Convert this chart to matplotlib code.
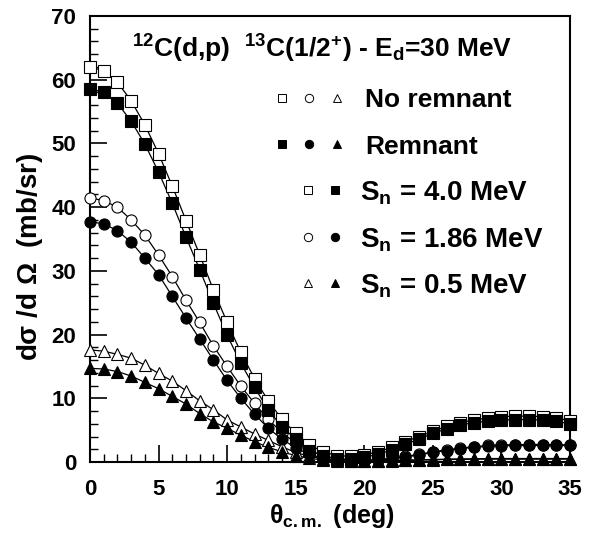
import numpy as np
import matplotlib
matplotlib.use("Agg")
import matplotlib.pyplot as plt

plt.rcParams["font.family"] = ["Liberation Sans", "DejaVu Sans"]
plt.rcParams["font.weight"] = "bold"
plt.rcParams["mathtext.fontset"] = "custom"
plt.rcParams["mathtext.bf"] = "Liberation Sans:bold"
plt.rcParams["mathtext.rm"] = "Liberation Sans"
plt.rcParams["mathtext.default"] = "bf"

# angles (deg), one point per degree
theta = list(range(0, 36))

# S_n = 4.0 MeV
sq_no = [62.0, 61.4, 59.6, 56.7, 52.9, 48.4, 43.3, 37.9, 32.5, 27.0, 21.9, 17.2,
         13.1, 9.6, 6.7, 4.5, 2.7, 1.6, 1.0, 0.9, 1.1, 1.6, 2.3, 3.2, 4.0, 4.8,
         5.6, 6.2, 6.6, 6.9, 7.1, 7.2, 7.2, 7.1, 6.9, 6.5]
sq_rem = [58.6, 58.0, 56.3, 53.5, 49.9, 45.5, 40.6, 35.3, 30.2, 24.9, 19.9, 15.5,
          11.7, 8.2, 5.5, 3.6, 1.8, 0.95, 0.5, 0.45, 0.75, 1.2, 1.9, 2.8, 3.6, 4.5,
          5.2, 5.8, 6.2, 6.4, 6.6, 6.65, 6.65, 6.6, 6.4, 6.0]
# S_n = 1.86 MeV
ci_no = [41.5, 41.0, 40.0, 38.0, 35.6, 32.5, 29.1, 25.4, 21.9, 18.2, 15.0, 11.9,
         9.2, 6.7, 4.6, 3.0, 1.8, 1.0, 0.5, 0.3, 0.3, 0.4, 0.6, 0.9, 1.2, 1.6,
         1.9, 2.2, 2.4, 2.6, 2.7, 2.7, 2.75, 2.75, 2.7, 2.7]
ci_rem = [37.7, 37.4, 36.3, 34.5, 32.0, 29.4, 26.0, 22.6, 19.3, 16.0, 12.8, 10.0,
          7.5, 5.3, 3.6, 2.2, 1.2, 0.6, 0.3, 0.2, 0.2, 0.3, 0.5, 0.8, 1.1, 1.5,
          1.8, 2.1, 2.3, 2.45, 2.55, 2.6, 2.6, 2.6, 2.6, 2.6]
# S_n = 0.5 MeV
tr_no = [17.6, 17.4, 16.9, 16.3, 15.2, 13.9, 12.7, 11.2, 9.6, 8.2, 6.6, 5.5,
         4.4, 3.4, 2.4, 1.5, 0.9, 0.5, 0.3, 0.2, 0.2, 0.2, 0.25, 0.3, 0.35, 0.4,
         0.45, 0.5, 0.5, 0.55, 0.55, 0.55, 0.55, 0.55, 0.55, 0.55]
tr_rem = [14.7, 14.6, 14.2, 13.5, 12.5, 11.5, 10.3, 9.1, 7.6, 6.3, 5.3, 4.2,
          3.2, 2.3, 1.6, 1.0, 0.6, 0.3, 0.15, 0.1, 0.1, 0.15, 0.2, 0.25, 0.3, 0.35,
          0.4, 0.4, 0.45, 0.45, 0.45, 0.45, 0.45, 0.45, 0.45, 0.45]

series = [
    (tr_no, "^", "white"), (tr_rem, "^", "black"),
    (ci_no, "o", "white"), (ci_rem, "o", "black"),
    (sq_no, "s", "white"), (sq_rem, "s", "black"),
]

fig = plt.figure(figsize=(6, 5.4), dpi=100)
ax = fig.add_axes([0.15, 0.1444, 0.8, 0.826])

for vals, m, fc in series:
    ax.plot(theta, vals, "-", color="black", lw=0.9, zorder=2, clip_on=False)
    ax.plot(theta, vals, linestyle="none", marker=m, ms=8, mfc=fc, mec="black",
            mew=0.8, zorder=3, clip_on=False)

ax.set_xlim(0, 35)
ax.set_ylim(0, 70)
ax.set_xticks(range(0, 36, 5))
ax.set_xticks(range(0, 36, 1), minor=True)
ax.set_yticks(range(0, 71, 10))
ax.set_yticks(range(0, 71, 2), minor=True)
ax.tick_params(which="both", direction="in", top=False, right=False,
               labelsize=16)
ax.tick_params(axis="x", which="both", pad=12)
ax.tick_params(axis="y", which="both", pad=10)
ax.tick_params(which="major", length=12, width=1.2)
ax.tick_params(which="minor", length=6, width=1.0)
for lab in ax.get_xticklabels() + ax.get_yticklabels():
    lab.set_fontweight("bold")
for sp in ax.spines.values():
    sp.set_linewidth(1.5)

# title inside the frame
ax.text((132 - 90) / 480, (462 - 58) / 446,
        r"$^{12}$C(d,p)  $^{13}$C(1/2$^{+}$) - E$_{d}$=30 MeV",
        transform=ax.transAxes, fontsize=19, fontweight="bold",
        ha="left", va="baseline")

# hand-made legend
def px(x, y):
    return (x - 90) / 480, (462 - y) / 446

rows = [
    ([(282, "s", "white"), (309, "o", "white"), (337, "^", "white")], 98, 107, 365, "No remnant", 19),
    ([(282, "s", "black"), (309, "o", "black"), (337, "^", "black")], 144, 154, 365, "Remnant", 19),
    ([(308, "s", "white"), (335, "s", "black")], 190, 200, 360, r"S$_{n}$ = 4.0 MeV", 20),
    ([(308, "o", "white"), (335, "o", "black")], 237, 247, 360, r"S$_{n}$ = 1.86 MeV", 20),
    ([(308, "^", "white"), (335, "^", "black")], 283, 293, 360, r"S$_{n}$ = 0.5 MeV", 20),
]
for marks, my, ty, tx, label, fs in rows:
    for mx, m, fc in marks:
        x, y = px(mx, my)
        ax.plot([x], [y], marker=m, ms=6, mfc=fc, mec="black", mew=0.7,
                transform=ax.transAxes, clip_on=False, linestyle="none")
    x, y = px(tx, ty)
    ax.text(x, y, label, transform=ax.transAxes, fontsize=fs,
            fontweight="bold", ha="left", va="baseline")

fig.text(332 / 600, 1 - 516 / 540, r"$\mathrm{θ}_{c.m.}$ (deg)",
         fontsize=18, fontweight="bold", ha="center", va="center")
fig.text(30 / 600, 1 - 257 / 540, r"d$\mathrm{σ}$ /d $\mathrm{Ω}$  (mb/sr)",
         fontsize=20, fontweight="bold", ha="center", va="center", rotation=90)

fig.savefig("out.png", dpi=100)
